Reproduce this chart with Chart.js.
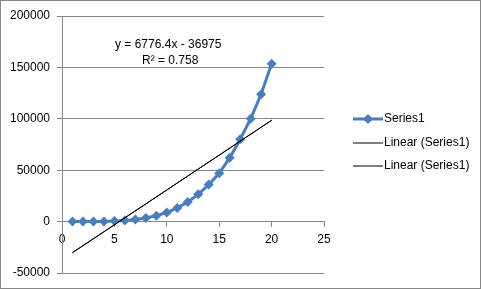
<!DOCTYPE html>
<html>
<head>
<meta charset="utf-8">
<script src="https://cdn.jsdelivr.net/npm/chart.js@4/dist/chart.umd.min.js"></script>
<style>
html, body { margin:0; padding:0; background:#fff; }
</style>
</head>
<body>
<canvas id="chart" width="481" height="289"></canvas>
<script>
// =================== DATA ===================
const xValues = [1,2,3,4,5,6,7,8,9,10,11,12,13,14,15,16,17,18,19,20];
const series1 = [0,0,0,0,500,1000,2000,3500,5800,8800,13300,19000,26500,36000,47000,62000,80000,100000,124000,153500];
const trendSlope = 6776.4;
const trendIntercept = -36975;
const rSquared = 0.758;
const xTicks = [0,5,10,15,20,25];
const yTicks = [-50000,0,50000,100000,150000,200000];
const legendLabels = ["Series1","Linear (Series1)","Linear (Series1)"];

const FONT = "Liberation Sans, Arial, sans-serif";
const GRID = "#868686";
const BLUE = "#4a7ebb";

// trendline from the fitted equation, over the x range of the data
const xFirst = xValues[0], xLast = xValues[xValues.length - 1];
const trendPts = [
  { x: xFirst, y: trendSlope * xFirst + trendIntercept },
  { x: xLast,  y: trendSlope * xLast + trendIntercept }
];

// =================== EXTRAS (equation, legend, border) ===================
const extras = {
  id: "extras",
  beforeDraw(chart) {
    const ctx = chart.ctx;
    ctx.save();
    ctx.fillStyle = "#fff";
    ctx.fillRect(0, 0, chart.width, chart.height);
    ctx.restore();
  },
  afterDraw(chart) {
    const ctx = chart.ctx;
    ctx.save();
    ctx.font = "12px " + FONT;
    ctx.fillStyle = "#000";
    ctx.textBaseline = "middle";
    ctx.textAlign = "left";
    ctx.fillText("y = " + trendSlope + "x - " + Math.abs(trendIntercept), 115, 45);
    ctx.fillText("R² = " + rSquared, 142, 61);

    // legend
    const ly = [119, 143, 166];
    legendLabels.forEach((t, i) => {
      ctx.beginPath();
      ctx.moveTo(353, ly[i]);
      ctx.lineTo(383, ly[i]);
      ctx.strokeStyle = i === 0 ? BLUE : "#000";
      ctx.lineWidth = i === 0 ? 3 : 1;
      ctx.stroke();
      if (i === 0) {
        ctx.beginPath();
        ctx.moveTo(368, ly[i] - 5);
        ctx.lineTo(373, ly[i]);
        ctx.lineTo(368, ly[i] + 5);
        ctx.lineTo(363, ly[i]);
        ctx.closePath();
        ctx.fillStyle = BLUE;
        ctx.fill();
      }
      ctx.fillStyle = "#000";
      ctx.fillText(t, 384, ly[i]);
    });

    ctx.strokeStyle = GRID;
    ctx.lineWidth = 1;
    ctx.strokeRect(0.5, 0.5, chart.width - 1, chart.height - 1);
    ctx.restore();
  }
};

// =================== CHART ===================
new Chart(document.getElementById("chart"), {
  type: "scatter",
  data: {
    datasets: [
      {
        label: legendLabels[0],
        data: xValues.map((x, i) => ({ x: x, y: series1[i] })),
        showLine: true,
        borderColor: BLUE,
        backgroundColor: BLUE,
        borderWidth: 3,
        pointStyle: "rectRot",
        pointRadius: 5,
        pointBorderWidth: 0,
        order: 2
      },
      {
        label: legendLabels[1],
        data: trendPts,
        showLine: true,
        borderColor: "#000",
        borderWidth: 1,
        pointRadius: 0,
        order: 1
      },
      {
        label: legendLabels[2],
        data: trendPts,
        showLine: true,
        borderColor: "#000",
        borderWidth: 1,
        pointRadius: 0,
        order: 0
      }
    ]
  },
  options: {
    responsive: false,
    animation: false,
    layout: { padding: { left: 0, top: 16, right: 157, bottom: 16 } },
    plugins: { legend: { display: false }, tooltip: { enabled: false } },
    scales: {
      x: {
        type: "linear",
        min: 0, max: 25,
        position: { y: 0 },
        afterBuildTicks: s => { s.ticks = xTicks.map(v => ({ value: v })); },
        ticks: { color: "#000", font: { family: FONT, size: 12 }, padding: 6, callback: v => String(v) },
        grid: { drawOnChartArea: false, drawTicks: true, tickLength: 5, color: GRID },
        border: { color: GRID }
      },
      y: {
        min: -50000, max: 200000,
        afterBuildTicks: s => { s.ticks = yTicks.map(v => ({ value: v })); },
        afterFit: s => { s.width = 62; },
        ticks: { color: "#000", font: { family: FONT, size: 12 }, padding: 7, callback: v => String(v) },
        grid: { color: GRID, tickLength: 5 },
        border: { color: GRID }
      }
    }
  },
  plugins: [extras]
});
</script>
</body>
</html>
